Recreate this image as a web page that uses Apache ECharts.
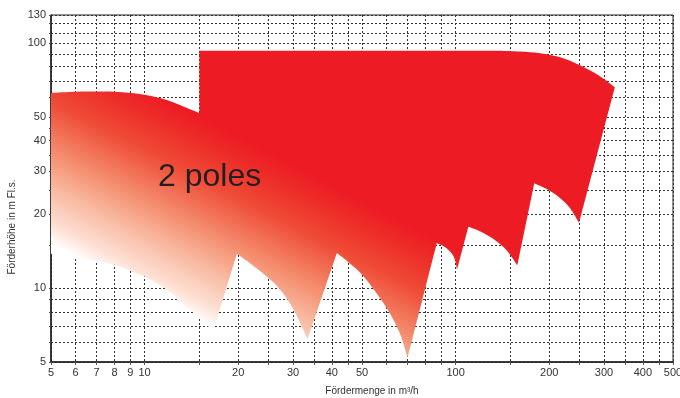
<!DOCTYPE html>
<html>
<head>
<meta charset="utf-8">
<script src="https://cdn.jsdelivr.net/npm/echarts@6.0.0/dist/echarts.min.js"></script>
<style>
html,body{margin:0;padding:0;background:#fff;}
#chart{width:680px;height:398px;}
</style>
</head>
<body>
<div id="chart"></div>
<script>
// Axis ticks / labels
const xLabelValues = [5, 6, 7, 8, 9, 10, 20, 30, 40, 50, 100, 200, 300, 400, 500];
const xGridValues = [5, 6, 7, 8, 9, 10, 15, 20, 25, 30, 35, 40, 45, 50, 60, 70, 80, 90, 100, 150, 200, 250, 300, 350, 400, 450, 500];
const yLabelValues = [5, 10, 20, 30, 40, 50, 100, 130];
const yGridValues = [5, 6, 7, 8, 9, 10, 15, 20, 25, 30, 35, 40, 45, 50, 60, 70, 80, 90, 100, 110, 120, 130];

// Outline of the "2 poles" performance field, [Q m³/h, H m], traced clockwise.
// Each run is a smooth curve; consecutive runs are joined by straight edges.
const topLeftCurve = [[5, 62.5], [6, 63.2], [7, 63.35], [8, 63.2], [9, 62.5], [10, 61.5], [11.2, 59.6], [12.4, 57.2], [13.7, 54.3], [15, 51.8]];
const mainTopFlat = [[15, 93], [139, 93]];
const mainTopCurve = [[139, 93], [161, 92.3], [187, 90.8], [217, 87.4], [251, 81.1], [291, 73.2], [325, 66.0]];
const notch250 = [[249.3, 18.5], [233.4, 21.2], [218.4, 23.1], [204.4, 24.6], [191.2, 25.8], [179, 26.8]];
const notch160 = [[157.9, 12.4], [146.8, 14.15], [136.6, 15.4], [127, 16.4], [118.1, 17.2], [109.9, 17.8]];
const notch100 = [[101, 11.9], [99.5, 13.05], [97.3, 13.8], [93.75, 14.5], [90.3, 14.96], [87, 15.3]];
const notch70 = [[70, 5.2], [66.3, 6.5], [60, 8.3], [50.5, 11.2], [45.1, 12.8], [41.5, 13.9]];
const notch33 = [[33.4, 6.2], [30.07, 8.23], [27.25, 9.88], [25, 11.0], [22.15, 12.45], [19.8, 13.8]];
const bottomLeftCurve = [[16.7, 6.85], [16, 6.97], [15.07, 7.54], [13.7, 8.36], [12.4, 9.38], [11.2, 10.3], [10, 11.15], [9, 11.76], [8, 12.45], [7, 12.9], [6, 13.25], [5, 13.8]];

const fieldLabel = '2 poles';

const runs = [topLeftCurve, mainTopFlat, mainTopCurve, notch250, notch160, notch100, notch70, notch33, bottomLeftCurve];

const chart = echarts.init(document.getElementById('chart'), null, {renderer: 'canvas'});
const FONT = 'Liberation Sans, Arial, sans-serif';
const gridLine = {show: true, lineStyle: {color: '#333', width: 1, type: [2, 2]}};

function f(n) { return n.toFixed(2); }

chart.setOption({
  animation: false,
  backgroundColor: '#ffffff',
  grid: {left: 51, right: 7, top: 15, bottom: 36, show: true, borderColor: '#231f20', borderWidth: 1,
         backgroundColor: 'transparent', containLabel: false, outerBoundsMode: 'none'},
  xAxis: {
    type: 'log', logBase: 10, min: 5, max: 500,
    axisLine: {show: true, onZero: false, lineStyle: {color: '#231f20', width: 1.5}},
    axisTick: {show: true, customValues: xGridValues, length: 3, lineStyle: {color: '#555', width: 1}},
    axisLabel: {customValues: xLabelValues, color: '#333', fontSize: 11, margin: 5, fontFamily: FONT, hideOverlap: false},
    splitLine: gridLine,
    minorTick: {show: false}, minorSplitLine: {show: false}
  },
  yAxis: {
    type: 'log', logBase: 10, min: 5, max: 130,
    axisLine: {show: true, onZero: false, lineStyle: {color: '#231f20', width: 1.5}},
    axisTick: {show: true, customValues: yGridValues, length: 2, lineStyle: {color: '#555', width: 1}},
    axisLabel: {customValues: yLabelValues, color: '#333', fontSize: 11, margin: 5, fontFamily: FONT, hideOverlap: false},
    splitLine: gridLine,
    minorTick: {show: false}, minorSplitLine: {show: false}
  },
  graphic: [
    {type: 'text', x: 12, y: 227, rotation: Math.PI / 2, silent: true,
     style: {text: 'Förderhöhe in m Fl.s.', fill: '#333', font: '10px ' + FONT, align: 'center', verticalAlign: 'middle'}},
    {type: 'text', x: 372, y: 391, silent: true,
     style: {text: 'Fördermenge in m³/h', fill: '#333', font: '10px ' + FONT, align: 'center', verticalAlign: 'middle'}},
    {type: 'text', x: 158, y: 177, silent: true, z: 100,
     style: {text: fieldLabel, fill: '#231f20', font: '32px ' + FONT, align: 'left', verticalAlign: 'middle'}}
  ],
  series: [{
    type: 'custom',
    coordinateSystem: 'cartesian2d',
    silent: true,
    data: [[5, 5]],
    renderItem: function (params, api) {
      let d = '';
      runs.forEach(function (run, ri) {
        const p = run.map(function (v) { return api.coord(v); });
        d += (ri === 0 ? 'M' : 'L') + f(p[0][0]) + ' ' + f(p[0][1]);
        for (let i = 0; i < p.length - 1; i++) {
          const p0 = p[i - 1] || p[i], p1 = p[i], p2 = p[i + 1], p3 = p[i + 2] || p[i + 1];
          const c1x = p1[0] + (p2[0] - p0[0]) / 6, c1y = p1[1] + (p2[1] - p0[1]) / 6;
          const c2x = p2[0] - (p3[0] - p1[0]) / 6, c2y = p2[1] - (p3[1] - p1[1]) / 6;
          d += 'C' + f(c1x) + ' ' + f(c1y) + ' ' + f(c2x) + ' ' + f(c2y) + ' ' + f(p2[0]) + ' ' + f(p2[1]);
        }
      });
      d += 'Z';
      const s = api.coord([16.5, 6.9]);
      const e = api.coord([30.5, 31.2]);
      return {
        type: 'path',
        shape: {pathData: d},
        style: {
          fill: new echarts.graphic.LinearGradient(s[0], s[1], e[0], e[1], [
            {offset: 0, color: '#ffffff'},
            {offset: 0.1, color: '#fde0d4'},
            {offset: 0.3, color: '#f8b59c'},
            {offset: 0.45, color: '#f48f70'},
            {offset: 0.7, color: '#ef4c37'},
            {offset: 0.9, color: '#ed2a27'},
            {offset: 1, color: '#ed1c24'}
          ], true)
        }
      };
    }
  }]
});
</script>
</body>
</html>
